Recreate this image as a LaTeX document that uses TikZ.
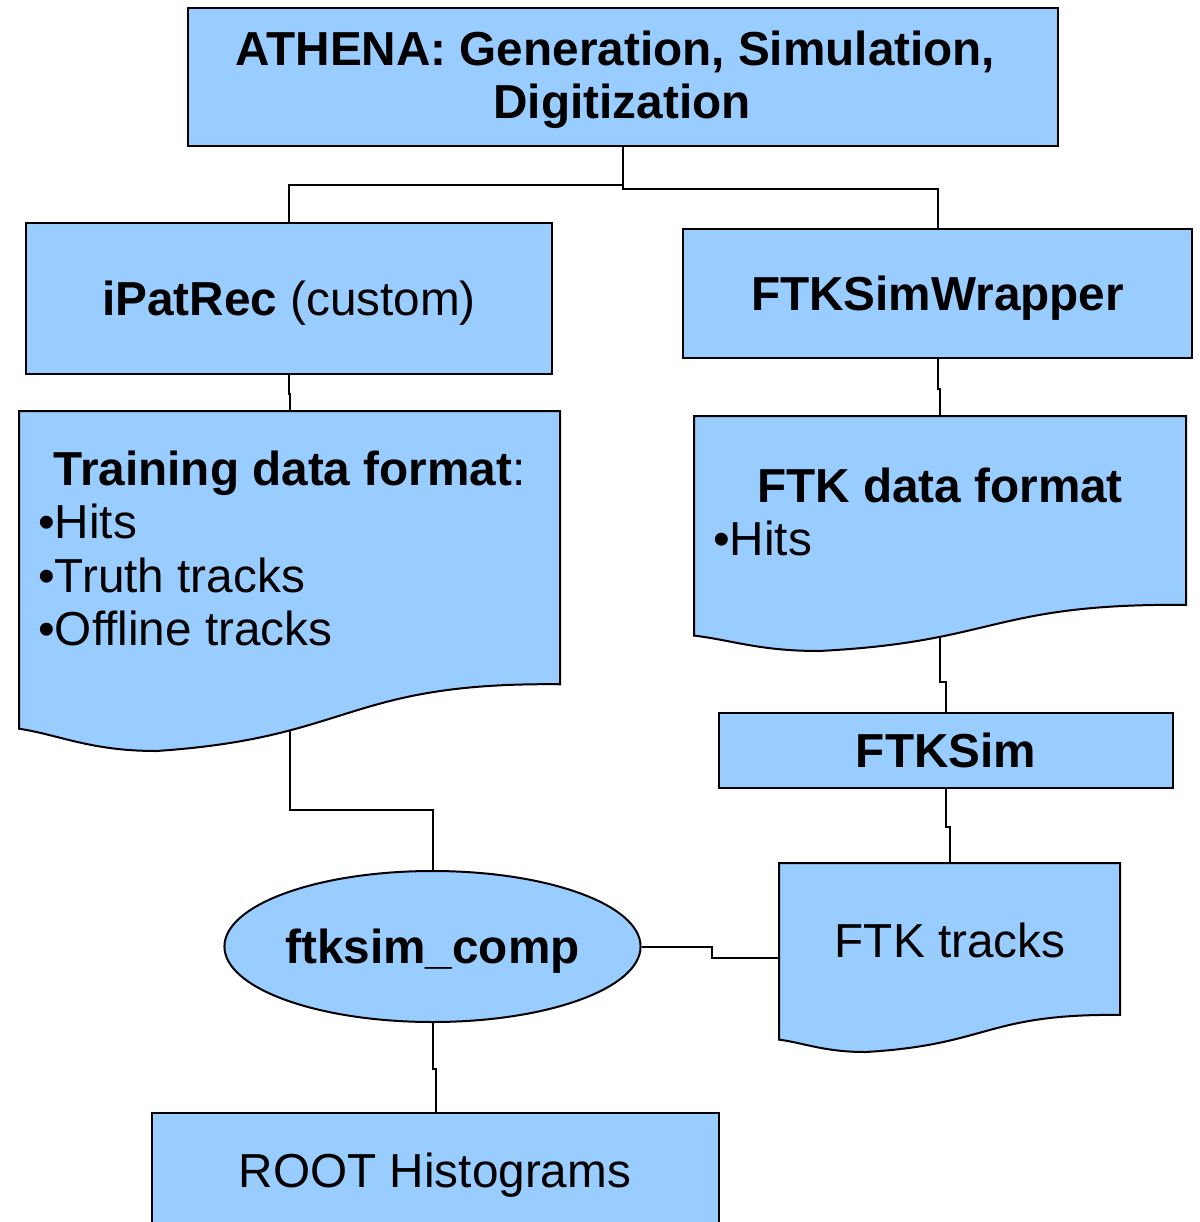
\documentclass[tikz,border=0pt]{standalone}
\usepackage{fontspec}
\setmainfont{Liberation Sans}
\usetikzlibrary{shapes.geometric}
\definecolor{boxblue}{HTML}{99CCFF}
\newcommand\diagsize{\fontsize{47.7pt}{53.5pt}\selectfont}
\tikzset{
  boxfill/.style={draw=black, fill=boxblue, line width=2pt},
  rbox/.style={boxfill, rectangle, inner sep=0pt, anchor=north west},
  hollow/.style={rectangle, inner sep=0pt, anchor=north west},
  capcenter/.style={text height=34pt, text depth=0pt},
  link/.style={draw=black, line width=2pt},
  lbl/.style={inner sep=0pt, font=\diagsize},
  blbl/.style={inner sep=0pt, font=\diagsize\bfseries},
  % flowchart "document" outline in unit coordinates
  docshape/.pic={
    \path[boxfill] (0,0) -- (1,0) -- (1,0.8037)
      .. controls (0.6042,0.7972) and (0.6176,0.9616) .. (0.2537,1)
      .. controls (0.1324,1) and (0.0764,0.9532) .. (0,0.9344) -- cycle;
  }
}
\begin{document}
\begin{tikzpicture}[x=1pt, y=-1pt]
\useasboundingbox (0,0) rectangle (1199,1222);

% plain boxes
\node[rbox, minimum width=870pt, minimum height=138pt] (athena) at (187,7) {};
\node[blbl, align=center] (athenatext) at (622,80) {ATHENA: Generation, Simulation,\hspace*{0.278em}\\Digitization};
\node[rbox, minimum width=526pt, minimum height=151pt, font=\diagsize, capcenter] (ipat) at (25,222) {\textbf{iPatRec} (custom)};
\node[rbox, minimum width=509pt, minimum height=129pt, font=\diagsize\bfseries, capcenter] (wrap) at (682,228) {FTKSimWrapper};
\node[rbox, minimum width=454pt, minimum height=75pt, font=\diagsize\bfseries, capcenter] (ftksim) at (718,712) {FTKSim};
\node[rbox, minimum width=567pt, minimum height=140pt] (root) at (151,1112) {};
\node[lbl, anchor=base] (roottext) at (435,1187) {ROOT Histograms};

% document shapes
\pic[shift={(19,411)}, xscale=541, yscale=340] {docshape};
\node[hollow, minimum width=541pt, minimum height=340pt] (train) at (19,411) {};
\coordinate (trainout) at (290,730.5);
\node[lbl, anchor=base] (trainhead) at (289.5,485) {\textbf{Training data format}:};
\node[lbl, anchor=base west] (trainhits) at (38,538) {•Hits};
\node[lbl, anchor=base west] (traintruth) at (38,592) {•Truth tracks};
\node[lbl, anchor=base west] (trainoff) at (38,645) {•Offline tracks};

\pic[shift={(694,416)}, xscale=492, yscale=235] {docshape};
\node[hollow, minimum width=492pt, minimum height=235pt] (ftkdata) at (694,416) {};
\coordinate (ftkdataout) at (940,637);
\node[blbl, anchor=base] (ftkhead) at (940,502) {FTK data format};
\node[lbl, anchor=base west] (ftkhits) at (713,555) {•Hits};

\pic[shift={(779,863)}, xscale=341, yscale=189] {docshape};
\node[hollow, minimum width=341pt, minimum height=189pt] (tracks) at (779,863) {};
\node[lbl, anchor=base] (trackstext) at (950,957) {FTK tracks};

% comparison step
\node[ellipse, boxfill, minimum width=415pt, minimum height=151pt, inner sep=0pt,
      font=\diagsize\bfseries, capcenter] (comp) at (432.5,946.5) {ftksim\_comp};

% connectors
\draw[link] (athena.south) -- ++(0,38) -| (ipat.north);
\draw[link] (athena.south) -- ++(0,42) -| (wrap.north);
\draw[link] (ipat.south) -- ++(0,19) -| (train.north);
\draw[link] (wrap.south) -- ++(0,30) -| (ftkdata.north);
\draw[link] (ftkdataout) -- ++(0,45) -| (ftksim.north);
\draw[link] (ftksim.south) -- ++(0,38) -| (tracks.north);
\draw[link] (trainout) -- ++(0,79.5) -| (comp.north);
\draw[link] (comp.east) -- ++(70,0) |- (tracks.west);
\draw[link] (comp.south) -- ++(0,46) -| (root.north);
\end{tikzpicture}
\end{document}
